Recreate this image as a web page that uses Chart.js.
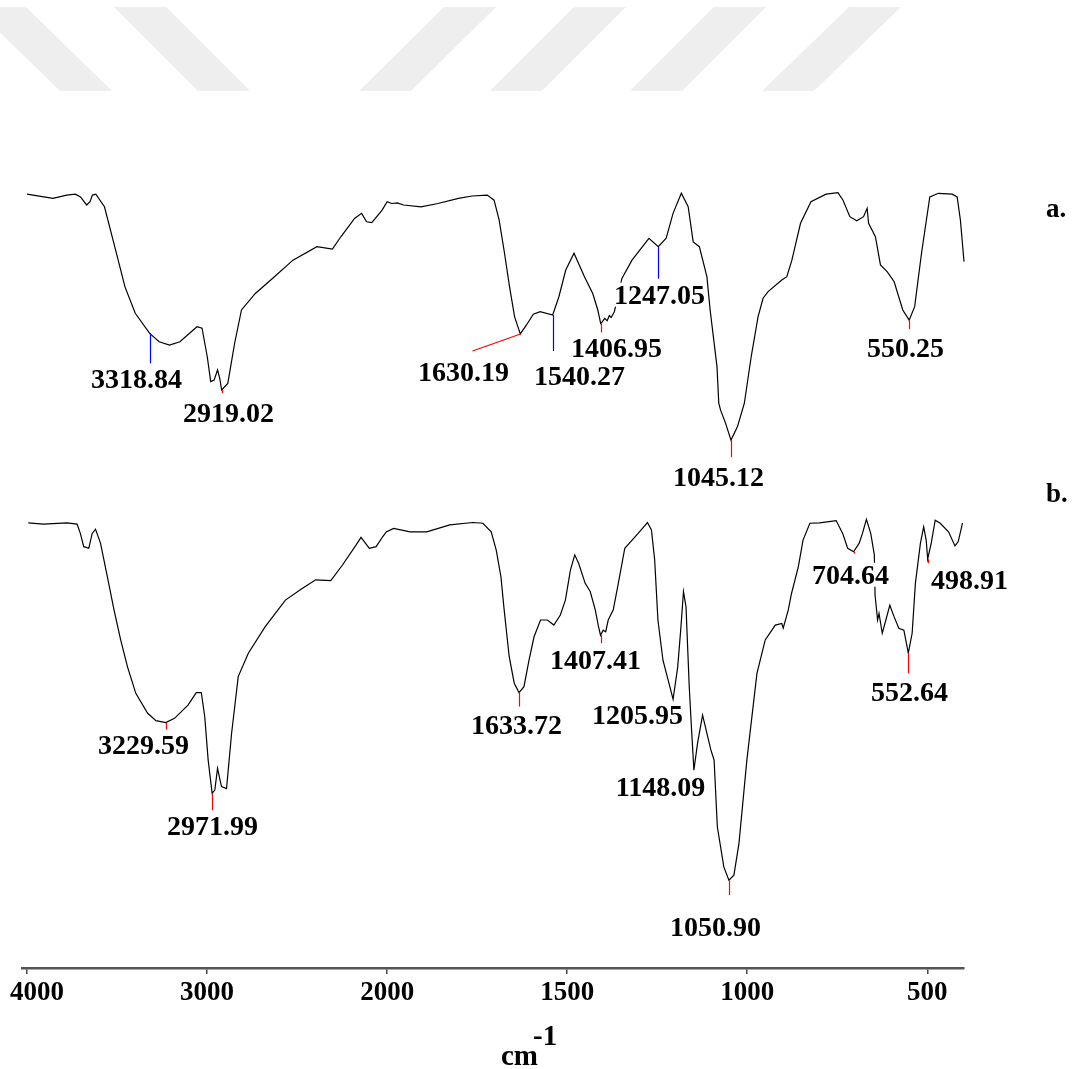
<!DOCTYPE html>
<html>
<head>
<meta charset="utf-8">
<title>FTIR spectra</title>
<script src="https://cdn.jsdelivr.net/npm/chart.js@4.4.1/dist/chart.umd.min.js"></script>
<style>
  html, body { margin: 0; padding: 0; background: #ffffff; }
  canvas { display: block; }
</style>
</head>
<body>
<canvas id="ir" width="1075" height="1069"></canvas>
<script>
// ---- Spectrum a: wavenumber (cm-1) and transmittance (%T) ----
const wavenumbersA = [4000, 3856, 3780, 3732, 3703, 3669, 3650, 3637, 3618, 3570, 3513, 3456, 3399, 3318.84, 3266, 3209, 3151, 3056, 3028, 2999,
  2980, 2961, 2942, 2930, 2919.02, 2885, 2847, 2809, 2732, 2637, 2523, 2390, 2304, 2257, 2181, 2142, 2114, 2085, 2028, 2000,
  1987, 1972, 1954, 1906, 1859, 1802, 1764, 1722, 1703, 1689, 1674, 1660, 1646, 1630.19, 1613, 1594, 1575, 1540.27, 1523, 1504,
  1481, 1452, 1429, 1415, 1406.95, 1402, 1396, 1389, 1383, 1378, 1369, 1348, 1320, 1273, 1247.05, 1225, 1206, 1183, 1164, 1150,
  1133, 1112, 1103, 1084, 1079, 1074, 1060, 1045.12, 1027, 1008, 989, 970, 956, 942, 904, 890, 876, 852, 823, 781,
  748, 734, 715, 696, 677, 667, 663, 644, 630, 611, 592, 568, 550.25, 535, 516, 493, 469, 431, 417, 408, 398];
const transmittanceA = [95.3, 93.9, 95.0, 95.3, 94.4, 91.7, 92.8, 95.0, 95.3, 91.1, 77.8, 64.4, 55.6, 48.9, 46.1, 45.0, 46.1, 51.1, 50.6, 41.1,
  32.8, 33.3, 36.7, 34.0, 30.0, 32.2, 45.6, 56.7, 62.2, 67.2, 73.3, 77.8, 77.0, 81.1, 87.2, 88.9, 86.1, 85.8, 90.0, 92.8,
  92.2, 92.4, 91.7, 91.1, 92.2, 93.9, 94.7, 95.0, 93.3, 86.7, 75.6, 64.4, 54.4, 48.7, 51.7, 55.3, 56.1, 55.0, 61.1, 70.0,
  75.6, 67.8, 62.2, 56.7, 52.2, 52.8, 53.9, 53.1, 54.8, 54.2, 56.1, 67.2, 73.3, 80.6, 77.8, 80.6, 88.9, 95.6, 91.1, 79.4,
  77.8, 67.8, 56.7, 37.8, 25.6, 23.3, 18.9, 13.3, 17.8, 25.6, 41.1, 54.4, 60.6, 62.8, 66.7, 67.8, 73.3, 85.6, 92.8, 95.3,
  95.8, 93.3, 87.8, 86.4, 87.8, 90.6, 85.6, 81.1, 71.7, 69.4, 66.1, 56.7, 53.3, 57.8, 75.6, 94.4, 95.6, 95.3, 94.4, 86.7, 72.8];

// ---- Spectrum b ----
const wavenumbersB = [3993, 3909, 3778, 3722, 3704, 3685, 3657, 3638, 3620, 3592, 3554, 3517, 3480, 3442, 3396, 3330, 3284, 3229.59, 3181, 3106,
  3060, 3032, 3013, 2994, 2971.99, 2957, 2942, 2920, 2892, 2864, 2827, 2771, 2677, 2565, 2472, 2397, 2313, 2248, 2173, 2145,
  2099, 2061, 2024, 2005, 1982, 1936, 1890, 1826, 1762, 1734, 1711, 1697, 1684, 1675, 1661, 1647, 1633.72, 1620, 1606, 1592,
  1574, 1555, 1537, 1519, 1505, 1491, 1479, 1468, 1450, 1436, 1422, 1413, 1407.41, 1400, 1393, 1386, 1372, 1358, 1340, 1303,
  1277, 1266, 1257, 1248, 1234, 1216, 1205.95, 1193, 1184, 1177, 1170, 1161, 1155, 1148.09, 1138, 1124, 1101, 1092, 1083, 1065,
  1050.90, 1037, 1023, 1001, 973, 950, 922, 904, 900, 886, 877, 858, 845, 826, 799, 753, 735, 721, 704.64, 689,
  680, 669, 657, 647, 645, 638, 634, 625, 615, 604, 592, 579, 565, 552.64, 542, 533, 519, 510, 503, 498.91,
  489, 478, 464, 441, 423, 414, 402];
const transmittanceB = [96.7, 96.4, 96.7, 96.4, 94.0, 90.6, 90.2, 94.0, 95.1, 91.5, 82.9, 74.4, 66.7, 59.8, 53.0, 47.9, 46.0, 45.5, 46.6, 50.0,
  53.2, 53.2, 47.0, 35.9, 27.4, 28.2, 33.8, 29.1, 28.6, 42.7, 57.3, 63.3, 70.1, 76.9, 79.9, 82.1, 81.9, 85.9, 91.0, 93.0,
  90.2, 90.6, 93.2, 94.4, 95.3, 94.4, 94.4, 96.2, 96.8, 96.6, 94.4, 89.7, 82.9, 74.4, 62.4, 55.6, 53.2, 54.7, 61.5, 67.5,
  71.8, 71.8, 70.5, 73.1, 76.9, 84.6, 88.5, 86.3, 81.2, 79.1, 74.4, 70.1, 67.9, 69.2, 68.8, 71.8, 74.4, 81.2, 90.2, 94.0,
  96.8, 94.9, 87.2, 71.8, 61.5, 55.1, 51.5, 59.8, 70.1, 79.1, 75.2, 54.7, 44.4, 33.3, 40.2, 47.4, 38.5, 35.9, 18.8, 8.5,
  5.1, 6.4, 14.5, 35.9, 58.1, 66.7, 70.5, 70.9, 69.7, 74.4, 78.6, 85.5, 92.3, 96.6, 96.7, 97.3, 94.0, 90.2, 89.3, 91.5,
  94.0, 97.6, 94.0, 88.5, 78.2, 71.8, 73.5, 68.4, 71.8, 75.6, 72.6, 69.7, 69.2, 63.3, 68.4, 81.2, 91.5, 95.7, 92.3, 87.4,
  91.5, 97.4, 96.6, 94.4, 90.8, 91.9, 96.7];

// ---- Marked band positions (cm-1) ----
const peaksA = [3318.84, 2919.02, 1630.19, 1540.27, 1406.95, 1247.05, 1045.12, 550.25];
const peaksB = [3229.59, 2971.99, 1633.72, 1407.41, 1205.95, 1148.09, 1050.90, 704.64, 552.64, 498.91];

// ---- Axis ticks and texts ----
const xTickValues = [4000, 3000, 2000, 1500, 1000, 500];
const seriesLabels = ['a.', 'b.'];
const axisUnit = 'cm';
const axisUnitPower = '-1';

// ---- Annotation styling: marker colour, marker length, label offset from the band ----
const markStyleA = [
  { color: '#0000ff', len: 30, dx: -14, dy: 36 },
  { color: '#ff0000', len: 3,  dx: 6,   dy: 13 },
  { color: '#ff0000', lead: [-48, 17], dx: -57, dy: 28 },
  { color: '#0000ff', len: 36, dx: 26,  dy: 51 },
  { color: '#ff0000', len: 9,  dx: 15,  dy: 15 },
  { color: '#0000ff', len: 32, dx: 1,   dy: 38 },
  { color: '#ff0000', len: 17, dx: -13, dy: 27 },
  { color: '#ff0000', len: 9,  dx: -4,  dy: 18 }
];
const markStyleB = [
  { color: '#ff0000', len: 7,  dx: -23, dy: 12 },
  { color: '#ff0000', len: 17, dx: 0,   dy: 23 },
  { color: '#ff0000', len: 14, dx: -3,  dy: 22 },
  { color: '#ff0000', len: 8,  dx: -6,  dy: 15 },
  { color: null,               dx: -36, dy: 6 },
  { color: null,               dx: -34, dy: 7 },
  { color: '#ff0000', len: 15, dx: -14, dy: 37 },
  { color: '#ff0000', len: 2,  dx: -4,  dy: 13 },
  { color: '#ff0000', len: 20, dx: 1,   dy: 29 },
  { color: '#ff0000', len: 4,  dx: 41,  dy: 11 }
];

const SERIF = '"Liberation Serif", "Times New Roman", serif';
const LABEL_SIZE = 28;
const CAP = 19; // digit height of the bold label font

// Wavenumber axis: the region below 2000 cm-1 is drawn with double expansion
const X_MIN = 398, X_MAX = 4028, BREAK = 2000, EXPAND = 2;
function toUnits(wn) {
  return wn >= BREAK ? (X_MAX - wn) : (X_MAX - BREAK) + (BREAK - wn) * EXPAND;
}
function fromUnits(u) {
  const head = X_MAX - BREAK;
  return u <= head ? X_MAX - u : BREAK - (u - head) / EXPAND;
}

class WavenumberScale extends Chart.LinearScale {
  buildTicks() {
    return xTickValues.map(v => ({ value: v }));
  }
  getPixelForValue(value) {
    const span = toUnits(this.min);
    return this.left + (toUnits(value) / span) * this.width;
  }
  getValueForPixel(pixel) {
    const span = toUnits(this.min);
    return fromUnits((pixel - this.left) / this.width * span);
  }
}
WavenumberScale.id = 'wavenumber';
WavenumberScale.defaults = Chart.LinearScale.defaults;
Chart.register(WavenumberScale);

// Light diagonal band pattern across the top of the page
const bandPattern = {
  id: 'bandPattern',
  beforeDraw(chart) {
    const ctx = chart.ctx;
    const bands = [[-26, 60], [114, 198], [444, 359], [574, 490], [714, 630], [849, 762]];
    const y0 = 7, y1 = 91, w = 52;
    ctx.save();
    ctx.fillStyle = '#eeeeee';
    bands.forEach(([top, bottom]) => {
      ctx.beginPath();
      ctx.moveTo(top, y0);
      ctx.lineTo(top + w, y0);
      ctx.lineTo(bottom + w, y1);
      ctx.lineTo(bottom, y1);
      ctx.closePath();
      ctx.fill();
    });
    ctx.restore();
  }
};

// Band markers and wavenumber labels
const bandLabels = {
  id: 'bandLabels',
  afterDatasetsDraw(chart) {
    const ctx = chart.ctx;
    const xs = chart.scales.x;
    ctx.save();
    ctx.font = 'bold ' + LABEL_SIZE + 'px ' + SERIF;
    ctx.textAlign = 'center';
    ctx.textBaseline = 'alphabetic';
    [[0, peaksA, markStyleA], [1, peaksB, markStyleB]].forEach(([di, peaks, styles]) => {
      const ds = chart.data.datasets[di];
      const ys = chart.scales[ds.yAxisID];
      peaks.forEach((wn, i) => {
        const pt = ds.data.find(p => p.x === wn);
        const px = Math.round(xs.getPixelForValue(wn)) + 0.5;
        const py = ys.getPixelForValue(pt.y);
        const st = styles[i];
        const text = wn.toFixed(2);
        const cx = px + st.dx;
        const top = py + st.dy;
        const w = ctx.measureText(text).width;
        ctx.fillStyle = '#ffffff';
        ctx.fillRect(cx - w / 2 - 1, top - 2, w + 2, CAP + 5);
        ctx.fillStyle = '#000000';
        ctx.fillText(text, cx, top + CAP);
        if (st.color) {
          ctx.strokeStyle = st.color;
          ctx.lineWidth = 1.2;
          ctx.beginPath();
          ctx.moveTo(px, py);
          if (st.lead) ctx.lineTo(px + st.lead[0], py + st.lead[1]);
          else ctx.lineTo(px, py + st.len);
          ctx.stroke();
        }
      });
    });
    ctx.restore();
  },
  afterDraw(chart) {
    const ctx = chart.ctx;
    const area = chart.chartArea;
    const xs = chart.scales.x;
    ctx.save();
    ctx.fillStyle = '#000000';
    ctx.textBaseline = 'alphabetic';
    ctx.textAlign = 'left';

    // tick labels of the wavenumber axis, kept inside the page at the left edge
    ctx.font = 'bold 27px ' + SERIF;
    xs.ticks.forEach(t => {
      const text = String(t.value);
      const w = ctx.measureText(text).width;
      const left = Math.max(xs.getPixelForValue(t.value) - w / 2, 10);
      ctx.fillText(text, left, area.bottom + 32);
    });

    ctx.fillText(seriesLabels[0], area.right + 82, area.top + 117);
    ctx.fillText(seriesLabels[1], area.right + 82, area.top + 402);

    const mid = (area.left + area.right) / 2;
    ctx.font = 'bold 29px ' + SERIF;
    ctx.fillText(axisUnit, mid + 8, area.bottom + 97);
    ctx.fillText(axisUnitPower, mid + 40, area.bottom + 77);
    ctx.restore();
  }
};

const toPoints = (xs, ys) => xs.map((x, i) => ({ x: x, y: ys[i] }));

new Chart(document.getElementById('ir'), {
  type: 'line',
  data: {
    datasets: [
      {
        label: seriesLabels[0],
        data: toPoints(wavenumbersA, transmittanceA),
        yAxisID: 'yA',
        borderColor: '#000000',
        borderWidth: 1.2,
        pointRadius: 0,
        tension: 0,
        fill: false,
        clip: false
      },
      {
        label: seriesLabels[1],
        data: toPoints(wavenumbersB, transmittanceB),
        yAxisID: 'yB',
        borderColor: '#000000',
        borderWidth: 1.2,
        pointRadius: 0,
        tension: 0,
        fill: false,
        clip: false
      }
    ]
  },
  options: {
    responsive: false,
    devicePixelRatio: 1,
    animation: false,
    events: [],
    layout: { padding: { left: 22, right: 111, top: 100, bottom: 0 } },
    plugins: {
      legend: { display: false },
      tooltip: { enabled: false }
    },
    scales: {
      x: {
        type: 'wavenumber',
        position: 'bottom',
        min: X_MIN,
        max: X_MAX,
        grid: {
          display: true,
          drawOnChartArea: false,
          drawTicks: true,
          tickLength: 6,
          color: '#444444',
          lineWidth: 1.5
        },
        border: { display: true, color: '#555555', width: 2.5 },
        ticks: { display: false, autoSkip: false, maxRotation: 0 },
        afterFit: s => { s.height = 101; s.paddingLeft = 0; s.paddingRight = 0; }
      },
      yA: { type: 'linear', display: false, min: -162.7, max: 126.7 },
      yB: { type: 'linear', display: false, min: -17.4, max: 205.1 }
    }
  },
  plugins: [bandPattern, bandLabels]
});
</script>
</body>
</html>
